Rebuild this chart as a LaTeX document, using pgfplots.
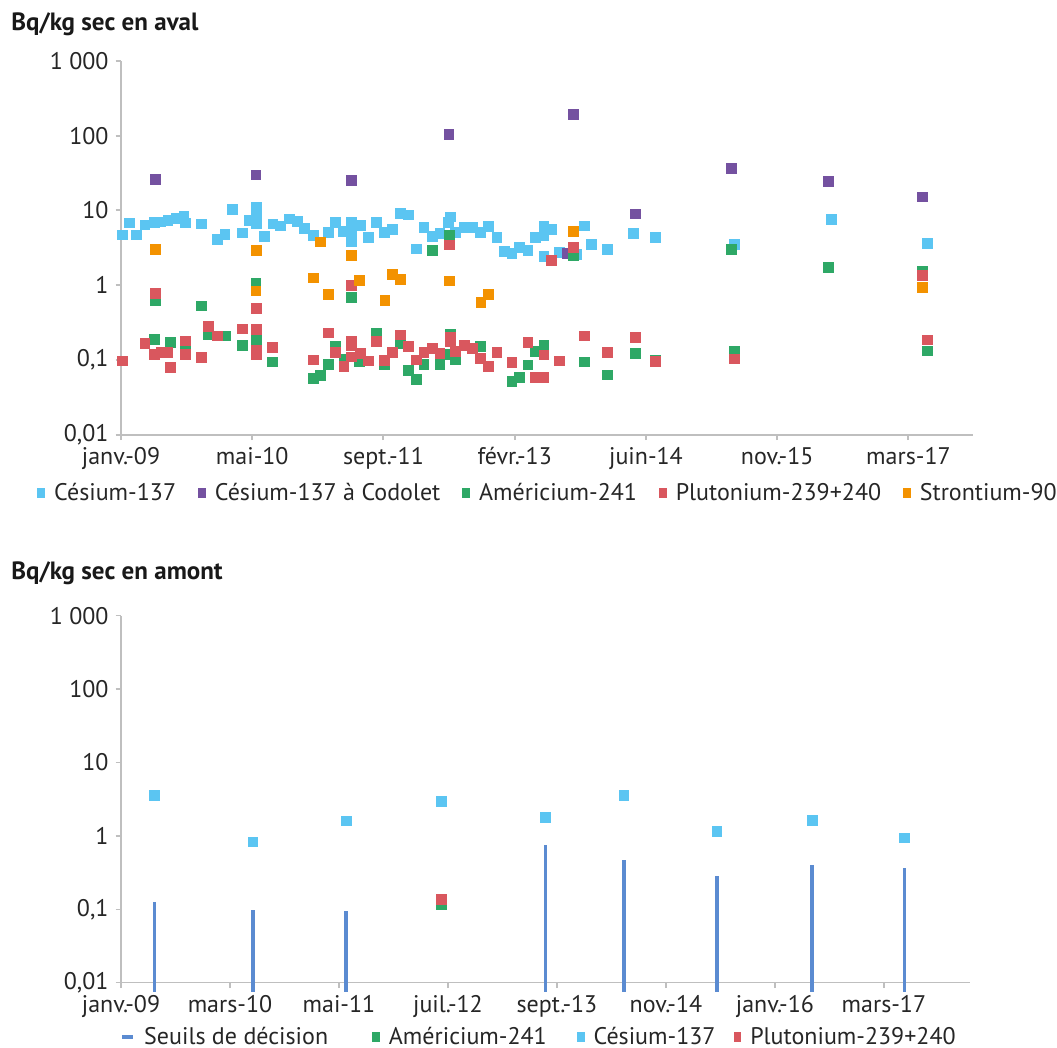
\documentclass[border=0pt]{standalone}
\usepackage{fontspec}
\setmainfont{PT Sans}
\usepackage{pgfplots}
\pgfplotsset{compat=1.18}

\definecolor{csblue}{HTML}{5BC5F2}
\definecolor{codolet}{HTML}{7451A0}
\definecolor{amgreen}{HTML}{2EA866}
\definecolor{pured}{HTML}{D9575E}
\definecolor{srorange}{HTML}{F39200}
\definecolor{seuil}{HTML}{5B8BD1}
\definecolor{axisgrey}{HTML}{BFBFBF}

\newcommand\sqimg[1]{\fill[#1] (0pt,-2.1pt) rectangle (3.4pt,2.1pt); \path (6pt,0pt);}
\newcommand\gap[1]{\rule{#1}{0pt}}
\newcommand\lblfont{\fontsize{12}{14}\selectfont}

\begin{document}
\begin{tikzpicture}
\useasboundingbox (-60.5pt,217.35pt) rectangle (468pt,-306.65pt);

\node[anchor=base west, inner sep=0pt, font=\fontsize{12.5}{14}\selectfont\bfseries, text=black!90]
  at (-55pt,201.85pt) {Bq/kg sec en aval};
\node[anchor=base west, inner sep=0pt, font=\fontsize{12.5}{14}\selectfont\bfseries, text=black!90]
  at (-55pt,-72.65pt) {Bq/kg sec en amont};

% ---------- en aval (x = days since 1 Jan 2009) ----------
\begin{axis}[
  at={(0pt,0pt)}, anchor=south west,
  scale only axis, width=426.15pt, height=186.85pt,
  xmin=0, xmax=3247, ymode=log, ymin=0.01, ymax=1000,
  axis x line*=bottom, axis y line*=left,
  axis line style={axisgrey, line width=1pt},
  ytick={0.01,0.1,1,10,100,1000},
  yticklabels={{0,01},{0,1},1,10,100,{1 000}},
  yminorticks=false,
  tick align=outside, major tick length=2.7pt,
  major tick style={axisgrey, line width=1pt},
  tick label style={font=\lblfont, text=black!85},
  xtick={0,500,1000,1500,2000,2500,3000},
  xticklabels={janv.-09,mai-10,sept.-11,févr.-13,juin-14,nov.-15,mars-17},
  legend columns=-1, legend cell align=left,
  legend style={draw=none, fill=none, inner xsep=0pt, font=\lblfont,
    text=black!85, at={(0,0)}, anchor=west, xshift=-42pt, yshift=-29.2pt},
]
\addplot[only marks, mark=square*, mark size=2.45pt, color=csblue,
  legend image code/.code={\sqimg{csblue}}] coordinates {
(5,4.7) (33,6.8) (60,4.7) (91,6.4) (127,7.0) (151,7.05) (179,7.4) (210,7.9)
(240,8.3) (244,6.8) (307,6.6) (368,4.1) (396,4.8) (425,10.4) (461,5.0) (489,7.3)
(517,11) (517,9.2) (517,6.6) (546,4.5) (579,6.6) (608,6.2) (641,7.7) (671,7.1)
(700,5.8) (733,4.6) (790,5.1) (818,6.9) (847,5.2) (879,6.9) (879,5.2) (879,3.9)
(911,6.3) (941,4.35) (972,6.9) (1003,5.1) (1034,5.6) (1063,9.2) (1095,8.7)
(1125,3.07) (1154,6.0) (1185,4.5) (1215,4.9) (1246,7.0) (1256,8.2) (1275,5.1)
(1307,5.9) (1339,5.9) (1369,5.1) (1401,6.1) (1432,4.4) (1460,2.86) (1489,2.65)
(1518,3.24) (1550,2.91) (1580,4.35) (1611,6.05) (1611,4.6) (1611,2.45) (1641,5.6)
(1670,2.77) (1734,2.6) (1764,6.2) (1793,3.5) (1854,2.98) (1952,4.9) (2037,4.4)
(2336,3.5) (2705,7.6) (3071,3.6)
};
\addlegendentry{Césium-137\gap{9pt}}
\addplot[only marks, mark=square*, mark size=2.45pt, color=codolet,
  legend image code/.code={\sqimg{codolet}}] coordinates {
(131,25.8) (514,30) (878,25) (1249,103) (1702,2.65) (1722,191) (1960,9.0)
(2324,37) (2694,24.2) (3052,15.2)
};
\addlegendentry{Césium-137 à Codolet\gap{9pt}}
\addplot[only marks, mark=square*, mark size=2.45pt, color=amgreen,
  legend image code/.code={\sqimg{amgreen}}] coordinates {
(127,0.19) (131,0.62) (189,0.173) (244,0.167) (306,0.53) (334,0.22) (400,0.21)
(461,0.157) (514,1.06) (517,0.195) (517,0.17) (578,0.094) (734,0.057) (761,0.062)
(791,0.088) (818,0.15) (849,0.103) (878,0.68) (908,0.095) (972,0.23) (1003,0.088)
(1063,0.167) (1095,0.072) (1125,0.055) (1154,0.088) (1186,2.95) (1215,0.088)
(1246,0.119) (1250,4.6) (1256,0.22) (1275,0.1) (1369,0.15) (1489,0.052)
(1518,0.059) (1550,0.086) (1580,0.129) (1611,0.158) (1725,2.5) (1764,0.094)
(1854,0.063) (1960,0.123) (2037,0.1) (2324,3.04) (2336,0.132) (2694,1.75)
(3052,1.52) (3071,0.132)
};
\addlegendentry{Américium-241\gap{9pt}}
\addplot[only marks, mark=square*, mark size=2.45pt, color=pured,
  legend image code/.code={\sqimg{pured}}] coordinates {
(5,0.097) (91,0.167) (127,0.119) (131,0.78) (155,0.125) (176,0.127) (189,0.080)
(244,0.18) (244,0.119) (306,0.107) (334,0.28) (368,0.21) (461,0.26) (517,0.49)
(517,0.255) (517,0.136) (517,0.12) (578,0.146) (734,0.1) (791,0.23) (818,0.127)
(849,0.081) (878,1.0) (879,0.176) (879,0.155) (879,0.11) (911,0.123) (941,0.097)
(972,0.176) (1003,0.098) (1034,0.125) (1063,0.216) (1095,0.15) (1125,0.1)
(1154,0.125) (1185,0.143) (1215,0.123) (1250,3.47) (1256,0.2) (1256,0.175)
(1275,0.13) (1307,0.158) (1339,0.143) (1369,0.105) (1401,0.083) (1432,0.127)
(1489,0.093) (1550,0.17) (1580,0.059) (1611,0.117) (1611,0.059) (1640,2.14)
(1670,0.097) (1725,3.2) (1764,0.21) (1854,0.125) (1960,0.2) (2037,0.095)
(2336,0.103) (3052,1.35) (3071,0.185)
};
\addlegendentry{Plutonium-239+240\gap{9pt}}
\addplot[only marks, mark=square*, mark size=2.45pt, color=srorange,
  legend image code/.code={\sqimg{srorange}}] coordinates {
(131,3.0) (517,2.9) (514,0.84) (734,1.25) (761,3.8) (791,0.76) (878,2.53)
(909,1.15) (1005,0.62) (1034,1.41) (1063,1.2) (1250,1.14) (1371,0.59)
(1401,0.76) (1725,5.2) (3052,0.93)
};
\addlegendentry{Strontium-90}
\end{axis}

% ---------- en amont ----------
\begin{axis}[
  at={(0pt,-274pt)}, anchor=south west,
  scale only axis, width=424.3pt, height=183.5pt,
  xmin=0, xmax=3348, ymode=log, ymin=0.01, ymax=1000,
  clip=false,
  axis x line*=bottom, axis y line*=left,
  axis line style={axisgrey, line width=0.7pt},
  ytick={0.01,0.1,1,10,100,1000},
  yticklabels={{0,01},{0,1},1,10,100,{1 000}},
  yminorticks=false,
  tick align=outside, major tick length=2.7pt,
  major tick style={axisgrey, line width=0.7pt},
  tick label style={font=\lblfont, text=black!85},
  xtick={0,430,860,1290,1720,2150,2580,3010},
  xticklabels={janv.-09,mars-10,mai-11,juil.-12,sept.-13,nov.-14,janv.-16,mars-17},
  legend columns=-1, legend cell align=left,
  legend style={draw=none, fill=none, inner xsep=0pt, font=\lblfont,
    text=black!85, at={(0,0)}, anchor=west, xshift=-0.5pt, yshift=-27.2pt},
]
\addplot[seuil, line width=1.8pt, unbounded coords=jump,
  legend image code/.code={\draw[seuil, line width=2pt] (0pt,0pt) -- (5.5pt,0pt); \path (8pt,0pt);}]
  coordinates {
(132,0.0075) (132,0.125) (132,nan)
(520,0.0075) (520,0.098) (520,nan)
(888,0.0075) (888,0.095) (888,nan)
(1675,0.0075) (1675,0.75) (1675,nan)
(1984,0.0075) (1984,0.47) (1984,nan)
(2351,0.0075) (2351,0.287) (2351,nan)
(2727,0.0075) (2727,0.40) (2727,nan)
(3091,0.0075) (3091,0.36)
};
\addlegendentry{Seuils de décision\gap{20pt}}
\addplot[only marks, mark=square*, mark size=2.45pt, color=amgreen,
  legend image code/.code={\sqimg{amgreen}}] coordinates {(1263,0.115)};
\addlegendentry{Américium-241\gap{13pt}}
\addplot[only marks, mark=square*, mark size=2.45pt, color=csblue,
  legend image code/.code={\sqimg{csblue}}] coordinates {
(132,3.57) (520,0.83) (888,1.6) (1263,2.92) (1675,1.77) (1984,3.57)
(2351,1.16) (2727,1.61) (3091,0.94)
};
\addlegendentry{Césium-137\gap{7pt}}
\addplot[only marks, mark=square*, mark size=2.45pt, color=pured,
  legend image code/.code={\sqimg{pured}}] coordinates {(1263,0.137)};
\addlegendentry{Plutonium-239+240}
\end{axis}
\end{tikzpicture}
\end{document}
